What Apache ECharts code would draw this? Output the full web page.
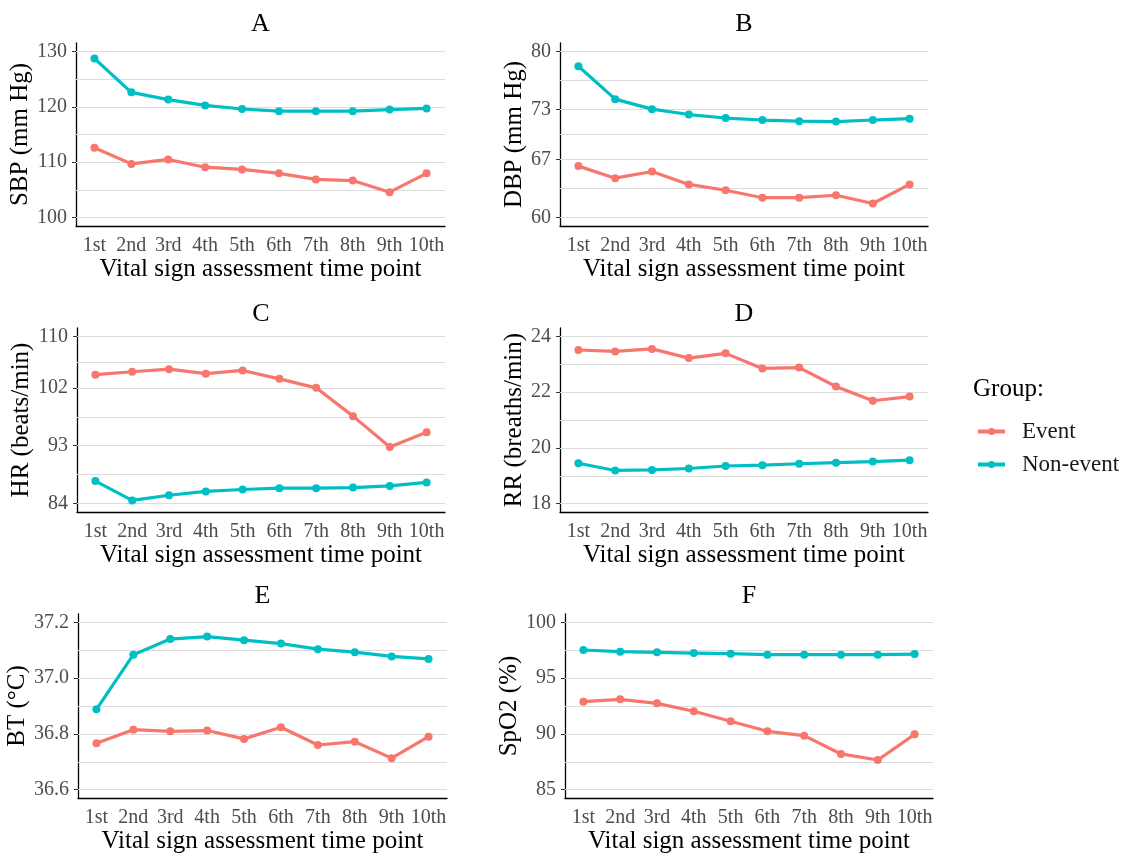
<!DOCTYPE html>
<html>
<head>
<meta charset="utf-8">
<script src="https://cdn.jsdelivr.net/npm/echarts@6/dist/echarts.min.js"></script>
<style>
  html, body { margin: 0; padding: 0; background: #fff; }
  #chart { width: 1123px; height: 853px; }
</style>
</head>
<body>
<div id="chart"></div>
<script>
// Vital sign trends, Event vs Non-event, six panels (A-F)

const timePoints = ["1st", "2nd", "3rd", "4th", "5th", "6th", "7th", "8th", "9th", "10th"];

const sbpEvent = [112.6, 109.7, 110.5, 109.1, 108.7, 108.0, 106.9, 106.7, 104.6, 108.0];
const sbpNonEvent = [128.7, 122.6, 121.3, 120.25, 119.6, 119.2, 119.2, 119.2, 119.5, 119.7];
const sbpTicks = [100, 110, 120, 130];

const dbpEvent = [66.2, 64.75, 65.55, 64.0, 63.3, 62.4, 62.4, 62.7, 61.7, 64.0];
const dbpNonEvent = [78.2, 74.25, 73.05, 72.4, 71.98, 71.74, 71.6, 71.55, 71.74, 71.9];
const dbpTicks = [60, 67, 73, 80];

const hrEvent = [104.05, 104.5, 104.9, 104.2, 104.7, 103.4, 102.0, 97.6, 92.8, 95.1];
const hrNonEvent = [87.5, 84.5, 85.3, 85.9, 86.2, 86.4, 86.4, 86.5, 86.75, 87.3];
const hrTicks = [84, 93, 102, 110];

const rrEvent = [23.51, 23.46, 23.55, 23.22, 23.39, 22.85, 22.88, 22.2, 21.69, 21.84];
const rrNonEvent = [19.45, 19.19, 19.21, 19.26, 19.35, 19.38, 19.43, 19.47, 19.51, 19.56];
const rrTicks = [18, 20, 22, 24];

const btEvent = [36.766, 36.815, 36.809, 36.812, 36.782, 36.824, 36.76, 36.772, 36.713, 36.79];
const btNonEvent = [36.888, 37.084, 37.14, 37.149, 37.136, 37.124, 37.104, 37.093, 37.078, 37.069];
const btTicks = [36.6, 36.8, 37.0, 37.2];

const spo2Event = [92.89, 93.1, 92.74, 92.03, 91.13, 90.23, 89.84, 88.2, 87.66, 89.96];
const spo2NonEvent = [97.52, 97.37, 97.31, 97.25, 97.19, 97.1, 97.1, 97.1, 97.1, 97.16];
const spo2Ticks = [85, 90, 95, 100];

const groupNames = ["Event", "Non-event"];
const xTitle = "Vital sign assessment time point";

const FONT = '"Liberation Serif", "Times New Roman", serif';
const EVENT_COLOR = "#F8766D";
const NONEVENT_COLOR = "#00BFC4";
const GRID_COLOR = "#DCDCDC";

const panels = [
  { letter: "A", yName: "SBP (mm Hg)", ticks: sbpTicks, event: sbpEvent, nonEvent: sbpNonEvent, digits: 0,
    box: { left: 76, top: 43, width: 369, height: 183 }, nameGap: 36, titleTop: 11 },
  { letter: "B", yName: "DBP (mm Hg)", ticks: dbpTicks, event: dbpEvent, nonEvent: dbpNonEvent, digits: 0,
    box: { left: 560, top: 43, width: 368, height: 183 }, nameGap: 26, titleTop: 11 },
  { letter: "C", yName: "HR (beats/min)", ticks: hrTicks, event: hrEvent, nonEvent: hrNonEvent, digits: 0,
    box: { left: 77, top: 328, width: 368, height: 184 }, nameGap: 37, titleTop: 301 },
  { letter: "D", yName: "RR (breaths/min)", ticks: rrTicks, event: rrEvent, nonEvent: rrNonEvent, digits: 0,
    box: { left: 560, top: 328, width: 368, height: 184 }, nameGap: 28, titleTop: 301 },
  { letter: "E", yName: "BT (°C)", ticks: btTicks, event: btEvent, nonEvent: btNonEvent, digits: 1,
    box: { left: 78, top: 614, width: 369, height: 184 }, nameGap: 41, titleTop: 583 },
  { letter: "F", yName: "SpO2 (%)", ticks: spo2Ticks, event: spo2Event, nonEvent: spo2NonEvent, digits: 0,
    box: { left: 565, top: 614, width: 368, height: 184 }, nameGap: 36, titleTop: 583 },
];

function makeLine(name, data, color, idx) {
  return {
    name: name,
    type: "line",
    xAxisIndex: idx,
    yAxisIndex: idx,
    data: data,
    z: 3,
    symbol: "circle",
    symbolSize: 8,
    showSymbol: true,
    lineStyle: { color: color, width: 3.2 },
    itemStyle: { color: color },
    emphasis: { disabled: true },
  };
}

const titles = [];
const grids = [];
const xAxes = [];
const yAxes = [];
const series = [];

panels.forEach((p, i) => {
  const lo = p.ticks[0];
  const hi = p.ticks[p.ticks.length - 1];
  const pad = (hi - lo) * 0.05;

  titles.push({
    text: p.letter,
    left: p.box.left + p.box.width / 2,
    top: p.titleTop,
    textAlign: "center",
    padding: 0,
    textStyle: { fontFamily: FONT, fontSize: 26, fontWeight: "normal", color: "#000" },
  });

  grids.push({ ...p.box, outerBoundsMode: "none", containLabel: false });

  xAxes.push({
    gridIndex: i,
    type: "category",
    data: timePoints,
    boundaryGap: true,
    name: xTitle,
    nameLocation: "middle",
    nameGap: 30,
    nameTextStyle: { fontFamily: FONT, fontSize: 25, color: "#000" },
    axisLine: { lineStyle: { color: "#000", width: 1.3 } },
    axisTick: { alignWithLabel: true, length: 4, lineStyle: { color: "#333", width: 1 } },
    axisLabel: { interval: 0, fontFamily: FONT, fontSize: 20, color: "#4D4D4D", margin: 10 },
    splitLine: { show: false },
  });

  yAxes.push({
    gridIndex: i,
    type: "value",
    min: lo - pad,
    max: hi + pad,
    name: p.yName,
    nameLocation: "middle",
    nameGap: p.nameGap,
    nameTextStyle: { fontFamily: FONT, fontSize: 25, color: "#000" },
    axisLine: { show: true, lineStyle: { color: "#000", width: 1.3 } },
    axisTick: { show: true, length: 4, customValues: p.ticks, lineStyle: { color: "#333", width: 1 } },
    axisLabel: {
      customValues: p.ticks,
      formatter: (v) => Number(v).toFixed(p.digits),
      fontFamily: FONT,
      fontSize: 20,
      color: "#4D4D4D",
      margin: 9,
    },
    splitLine: { show: false },
  });

  // major + minor horizontal gridlines (minor halfway between breaks)
  const gridLines = [];
  p.ticks.forEach((t, k) => {
    gridLines.push({ yAxis: t });
    if (k < p.ticks.length - 1) gridLines.push({ yAxis: (t + p.ticks[k + 1]) / 2 });
  });

  series.push({
    type: "line",
    xAxisIndex: i,
    yAxisIndex: i,
    data: [],
    z: 1,
    silent: true,
    markLine: {
      silent: true,
      z: 1,
      symbol: ["none", "none"],
      label: { show: false },
      lineStyle: { color: GRID_COLOR, width: 1, type: "solid" },
      emphasis: { disabled: true },
      data: gridLines,
    },
  });

  series.push(makeLine(groupNames[0], p.event, EVENT_COLOR, i));
  series.push(makeLine(groupNames[1], p.nonEvent, NONEVENT_COLOR, i));
});

titles.push({
  text: "Group:",
  left: 973,
  top: 377,
  padding: 0,
  textStyle: { fontFamily: FONT, fontSize: 25, fontWeight: "normal", color: "#000" },
});

const option = {
  animation: false,
  backgroundColor: "#fff",
  title: titles,
  legend: {
    data: groupNames,
    orient: "vertical",
    left: 976,
    top: 420,
    padding: 0,
    itemWidth: 27,
    itemHeight: 9,
    itemGap: 10,
    selectedMode: false,
    lineStyle: { width: 4 },
    textStyle: { fontFamily: FONT, fontSize: 23, color: "#1A1A1A", lineHeight: 23, padding: [0, 0, 0, 12] },
  },
  grid: grids,
  xAxis: xAxes,
  yAxis: yAxes,
  series: series,
};

const chart = echarts.init(document.getElementById("chart"));
chart.setOption(option);
</script>
</body>
</html>
